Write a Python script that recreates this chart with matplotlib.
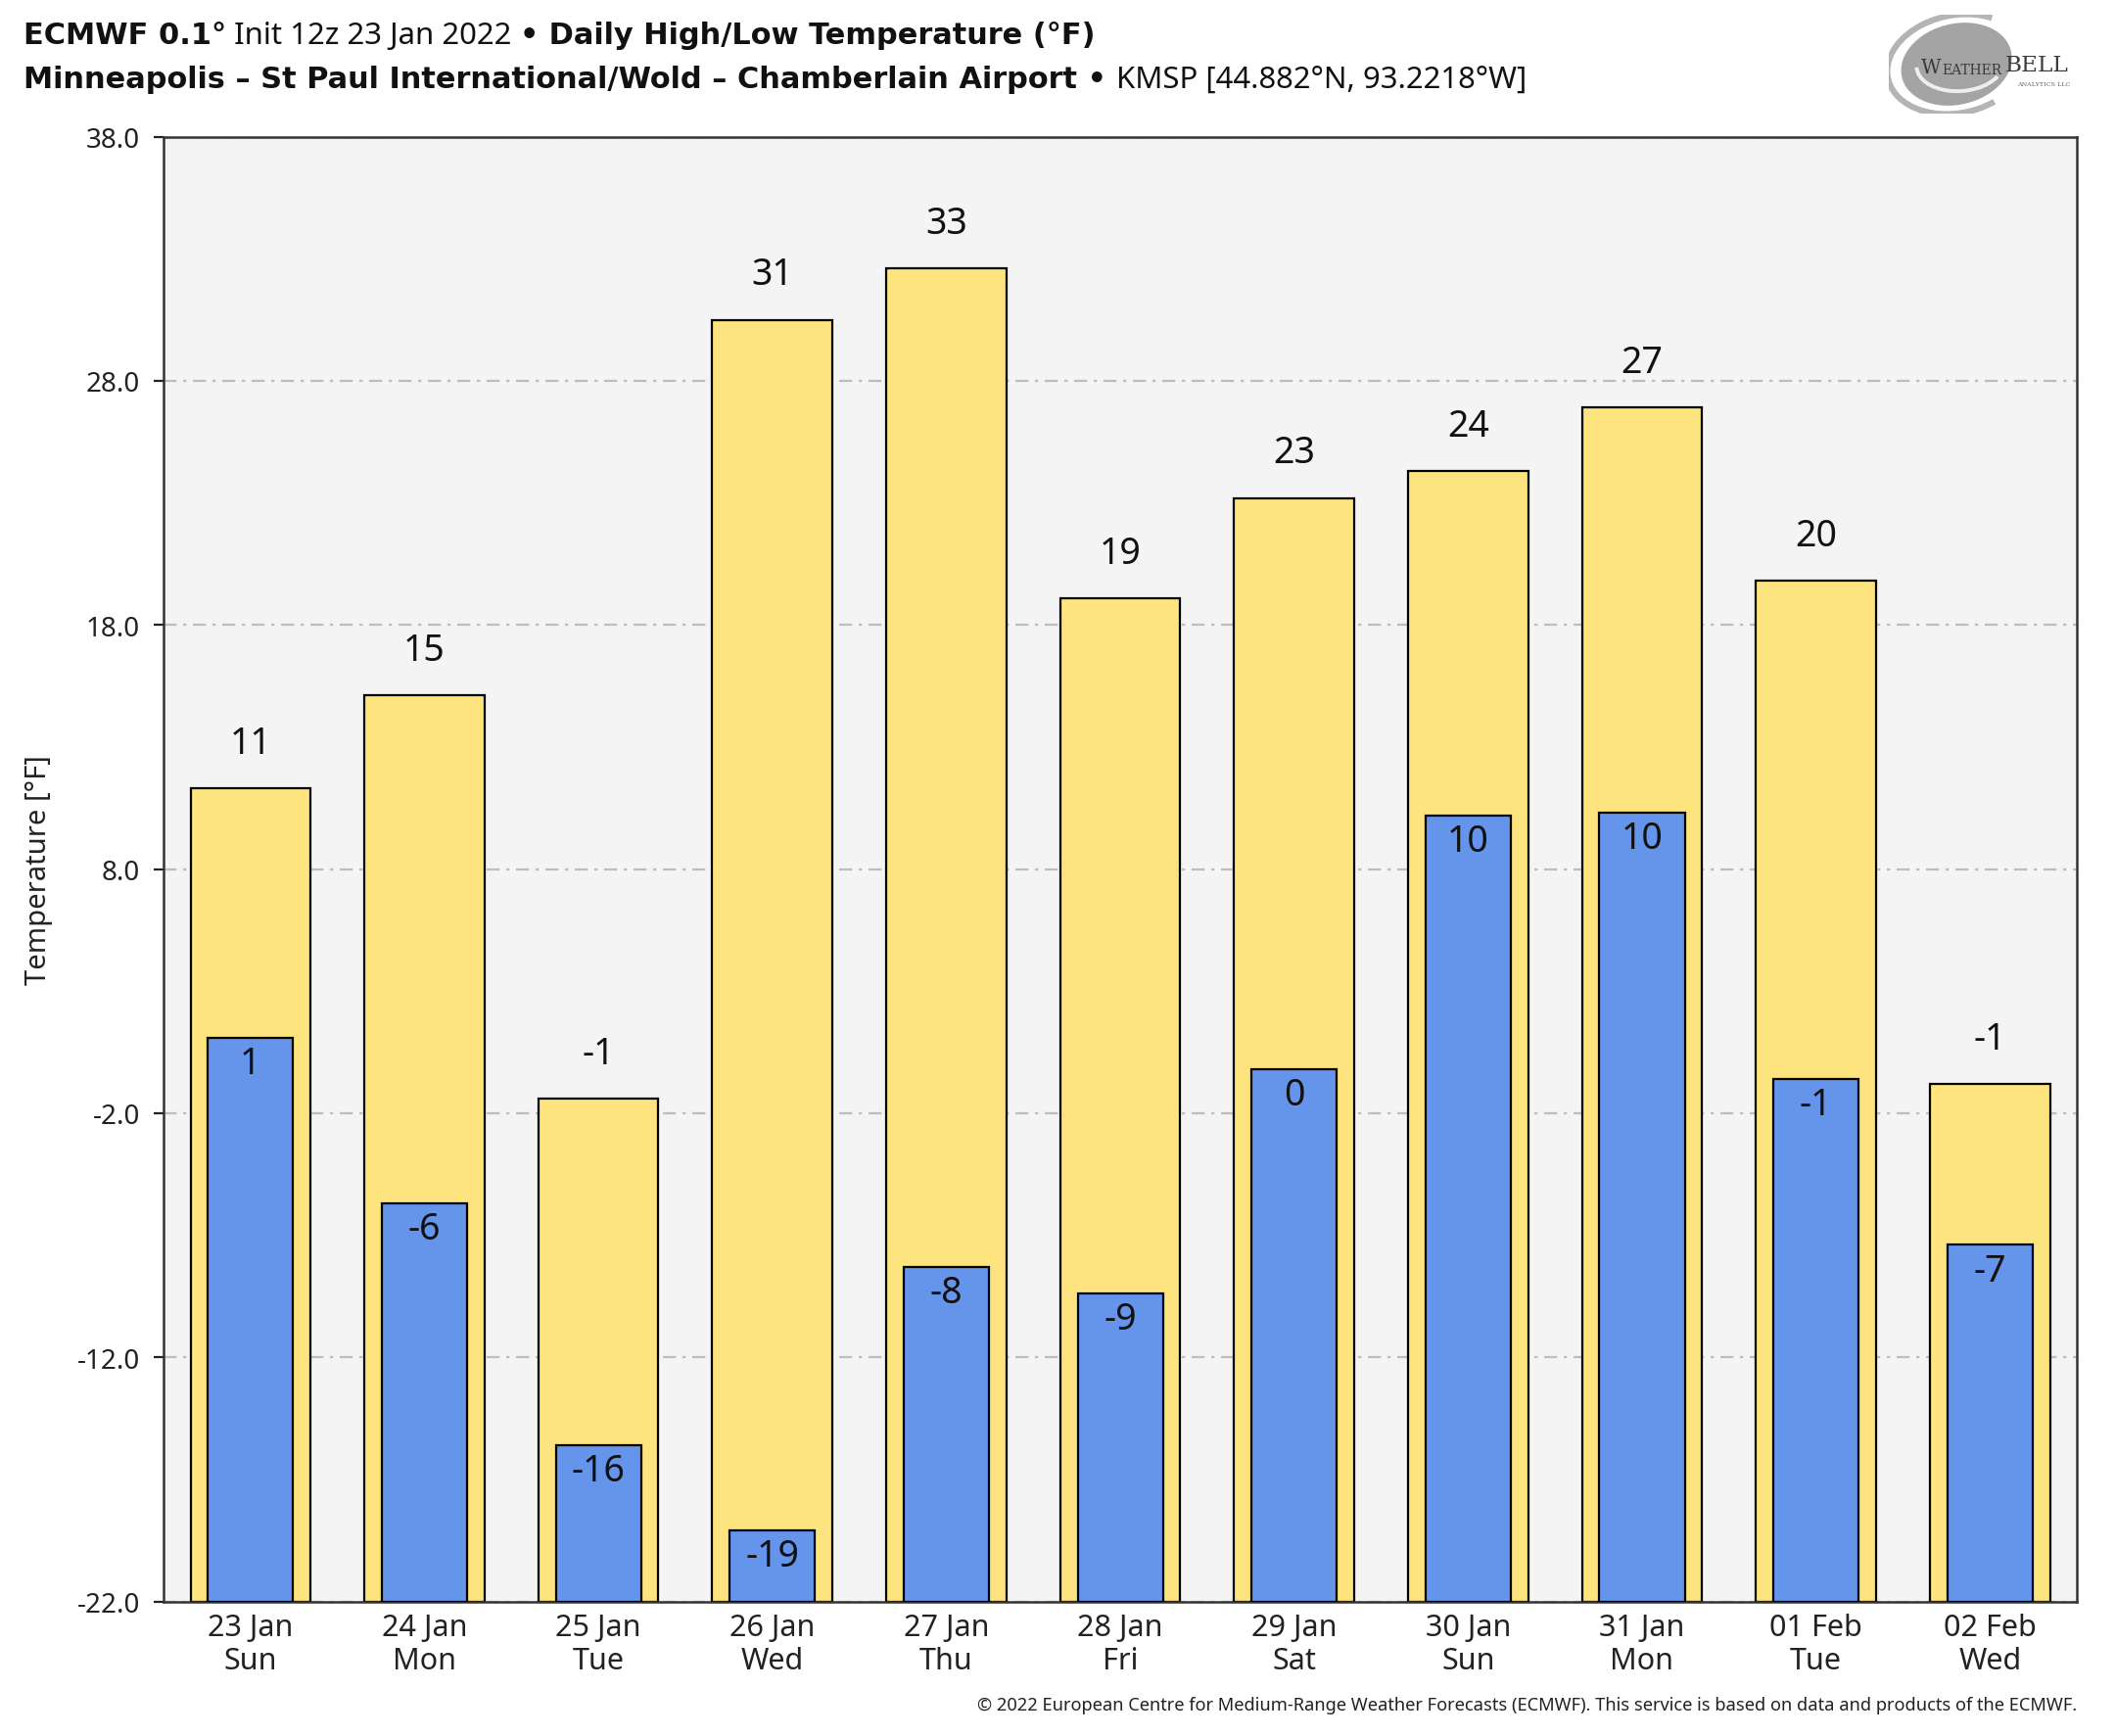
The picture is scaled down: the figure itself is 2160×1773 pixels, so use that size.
import numpy as np
import matplotlib
matplotlib.use('Agg')
import matplotlib.pyplot as plt
from matplotlib.patches import Ellipse, Arc

plt.rcParams['font.family'] = ['Noto Sans', 'DejaVu Sans']

# data
dates = ['23 Jan', '24 Jan', '25 Jan', '26 Jan', '27 Jan', '28 Jan',
         '29 Jan', '30 Jan', '31 Jan', '01 Feb', '02 Feb']
weekdays = ['Sun', 'Mon', 'Tue', 'Wed', 'Thu', 'Fri', 'Sat', 'Sun', 'Mon', 'Tue', 'Wed']
highs = [11.3, 15.1, -1.4, 30.5, 32.6, 19.1, 23.2, 24.3, 26.9, 19.8, -0.8]
lows = [1.1, -5.7, -15.6, -19.1, -8.3, -9.4, -0.2, 10.2, 10.3, -0.6, -7.4]
high_labels = [11, 15, -1, 31, 33, 19, 23, 24, 27, 20, -1]
low_labels = [1, -6, -16, -19, -8, -9, 0, 10, 10, -1, -7]
yticks = [38.0, 28.0, 18.0, 8.0, -2.0, -12.0, -22.0]

ymin, ymax = -22.0, 38.0
yellow = '#fde47f'
blue = '#6495ea'

fig = plt.figure(figsize=(10.8, 8.87), dpi=200)
ax = fig.add_axes([0.0773, 0.0775, 0.9047, 0.8433])
ax.set_facecolor('#f4f4f4')

x = np.arange(len(dates))
ax.bar(x, np.array(highs) - ymin, bottom=ymin, width=0.69, color=yellow,
       edgecolor='black', linewidth=0.8, zorder=2)
ax.bar(x, np.array(lows) - ymin, bottom=ymin, width=0.49, color=blue,
       edgecolor='black', linewidth=0.8, zorder=3)

for i in range(len(x)):
    ax.annotate(str(high_labels[i]), (x[i], highs[i]), xytext=(0, 13),
                textcoords='offset points', ha='center', va='baseline',
                fontsize=13.5, color='#111111', zorder=4)
    ax.annotate(str(low_labels[i]), (x[i], lows[i]), xytext=(0, -13),
                textcoords='offset points', ha='center', va='baseline',
                fontsize=13.5, color='#111111', zorder=4)

ax.set_xlim(-0.5, len(dates) - 0.5)
ax.set_ylim(ymin, ymax)
ax.set_yticks(yticks)
ax.set_yticklabels(['%.1f' % t for t in yticks])
ax.set_xticks(x)
ax.set_xticklabels([d + '\n' + w for d, w in zip(dates, weekdays)], linespacing=1.2)
ax.tick_params(axis='y', direction='out', length=3.6, width=0.8, pad=5, labelsize=10,
               colors='#222222')
ax.tick_params(axis='x', length=0, pad=4, labelsize=11, colors='#222222')
ax.set_ylabel('Temperature [°F]', fontsize=10.5, color='#222222', labelpad=9)

ax.set_axisbelow(True)
ax.yaxis.grid(True, color='#bdbdbd', linestyle=(0, (6, 3, 1.5, 3)), linewidth=0.8)
for s in ax.spines.values():
    s.set_color('#333333')
    s.set_linewidth(0.9)


# title lines: bold and normal pieces placed one after another on a baseline
def title_line(parts, x0, y0):
    fig.canvas.draw()
    r = fig.canvas.get_renderer()
    xpix = x0 * fig.bbox.width
    for txt, bold in parts:
        if bold:
            t = fig.text(xpix / fig.bbox.width, y0, txt, fontsize=10.95, fontweight='bold',
                         family='DejaVu Sans', va='baseline', color='#111111')
        else:
            t = fig.text(xpix / fig.bbox.width, y0, txt, fontsize=11.2,
                         va='baseline', color='#111111')
        xpix = t.get_window_extent(r).x1


title_line([('ECMWF 0.1°', True), (' Init 12z 23 Jan 2022 ', False), ('•', True),
            (' Daily High/Low Temperature (°F)', True)], 0.011, 0.9746)
title_line([('Minneapolis – St Paul International/Wold – Chamberlain Airport', True),
            (' • ', True), ('KMSP [44.882°N, 93.2218°W]', False)], 0.011, 0.9493)

fig.text(0.982, 0.0178,
         '© 2022 European Centre for Medium-Range Weather Forecasts (ECMWF). '
         'This service is based on data and products of the ECMWF.',
         ha='right', va='center', fontsize=6.57, color='#222222')

# weatherbell logo, rough
lax = fig.add_axes([0.893, 0.934, 0.089, 0.057])
lax.set_xlim(0, 1)
lax.set_ylim(0, 1)
lax.axis('off')
lax.add_patch(Ellipse((0.36, 0.5), 0.56, 0.82, angle=-12, color='#a4a4a4'))
lax.add_patch(Arc((0.36, 0.5), 0.72, 1.02, angle=-12, theta1=80, theta2=310,
                  color='#b4b4b4', lw=2.2))
lax.add_patch(Arc((0.38, 0.5), 0.46, 0.55, angle=-12, theta1=200, theta2=340,
                  color='#eeeeee', lw=1.4))
lax.text(0.17, 0.47, 'W', fontsize=7.2, family='DejaVu Serif', color='#3a3a3a',
         va='center', ha='left')
lax.text(0.285, 0.45, 'EATHER', fontsize=5.0, family='DejaVu Serif', color='#3a3a3a',
         va='center', ha='left')
lax.text(0.62, 0.5, 'BELL', fontsize=8.4, family='DejaVu Serif', color='#3a3a3a',
         va='center', ha='left')
lax.text(0.68, 0.3, 'ANALYTICS LLC', fontsize=2.3, family='DejaVu Serif',
         color='#666666', va='center', ha='left')

fig.savefig('out.png', dpi=200, facecolor='white')
